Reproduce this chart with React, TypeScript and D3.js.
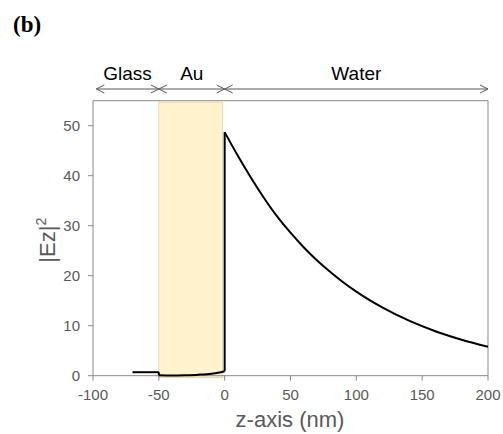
import React from 'react';
import * as d3 from 'd3';

// field profile |Ez|^2 across glass / Au / water
const glassZ = [-70, -50];
const glassE = [0.7, 0.7];
const goldZ = [-50, -40, -30, -20, -10, -5, 0];
const goldE = [0.1, 0.05, 0.1, 0.2, 0.4, 0.6, 0.9];
const waterZ = [0, 10, 20, 30, 40, 50, 60, 70, 80, 90, 100, 120, 140, 160, 180, 200];
const waterE = [48.7, 44.0, 39.6, 35.5, 31.8, 28.6, 25.7, 23.1, 20.8, 18.7, 16.8, 13.6, 11.0, 8.9, 7.2, 5.8];

const xTicks = [-100, -50, 0, 50, 100, 150, 200];
const yTicks = [0, 10, 20, 30, 40, 50];
const regions = [
  { name: 'Glass', from: -97.5, to: -50 },
  { name: 'Au', from: -50, to: 0 },
  { name: 'Water', from: 0, to: 200 },
];

const W = 503;
const H = 434;
const margin = { top: 100.7, right: 15, bottom: 58.3, left: 93 };

const App = () => {
  const x = d3.scaleLinear().domain([-100, 200]).range([margin.left, W - margin.right]);
  const y = d3.scaleLinear().domain([0, 55]).range([H - margin.bottom, margin.top]);

  const line = d3.line<[number, number]>()
    .x(d => x(d[0]))
    .y(d => y(d[1]))
    .curve(d3.curveMonotoneX);
  const straight = d3.line<[number, number]>()
    .x(d => x(d[0]))
    .y(d => y(d[1]));

  // monotoneX can't handle duplicate x, so draw segments separately
  const segs = [
    glassZ.map((z, i) => [z, glassE[i]] as [number, number]),
    goldZ.map((z, i) => [z, goldE[i]] as [number, number]),
    waterZ.map((z, i) => [z, waterE[i]] as [number, number]),
  ];
  const joins = [
    [[glassZ[glassZ.length - 1], glassE[glassE.length - 1]], [goldZ[0], goldE[0]]],
    [[goldZ[goldZ.length - 1], goldE[goldE.length - 1]], [waterZ[0], waterE[0]]],
  ] as [number, number][][];

  const axisCol = '#898989';
  const textCol = '#595959';
  const font = '"Liberation Sans", Arial, sans-serif';
  const arrowY = 89;
  const x0 = x(-100);
  const x1 = x(200);
  const y0 = y(0);
  const yTop = y(55);

  return (
    <svg width={W} height={H} style={{ position: 'absolute', left: 0, top: 0, background: '#fff' }}>
      <text x={13} y={32} fontFamily='"Liberation Serif", "Times New Roman", serif' fontWeight="bold" fontSize={23} fill="#000">(b)</text>

      {/* Au band */}
      <rect
        x={x(-50)} y={y(54.7)}
        width={x(-1.5) - x(-50)} height={y(-0.4) - y(54.7)}
        fill="#fff2cc" stroke="#e0d2a8" strokeWidth={0.8}
      />

      {/* frame */}
      <line x1={x0} x2={x1} y1={yTop} y2={yTop} stroke={axisCol} />
      <line x1={x1} x2={x1} y1={yTop} y2={y0} stroke={axisCol} />
      <line x1={x0} x2={x0} y1={yTop} y2={y0} stroke={axisCol} />
      <line x1={x0} x2={x1} y1={y0} y2={y0} stroke={axisCol} />

      {yTicks.map(t => (
        <g key={'y' + t}>
          <line x1={x0 - 5} x2={x0} y1={y(t)} y2={y(t)} stroke={axisCol} />
          <text x={x0 - 13} y={y(t) + 5.5} textAnchor="end" fontFamily={font} fontSize={15} fill={textCol}>{t}</text>
        </g>
      ))}
      {xTicks.map(t => (
        <g key={'x' + t}>
          <line x1={x(t)} x2={x(t)} y1={y0} y2={y0 + 5} stroke={axisCol} />
          <text x={x(t)} y={y0 + 24} textAnchor="middle" fontFamily={font} fontSize={15} fill={textCol}>{t}</text>
        </g>
      ))}

      <text x={290} y={427} textAnchor="middle" fontFamily={font} fontSize={22} fill={textCol}>z-axis  (nm)</text>
      <text transform={`translate(55,${(yTop + y0) / 2 + 2}) rotate(-90)`} textAnchor="middle" fontFamily={font} fontSize={22} fill={textCol}>
        |Ez|<tspan dy={-9} fontSize={14}>2</tspan>
      </text>

      {/* region arrows */}
      {regions.map(r => {
        const a = x(r.from);
        const b = x(r.to);
        return (
          <g key={r.name} stroke="#595959" strokeWidth={1} fill="none">
            <line x1={a} x2={b} y1={arrowY} y2={arrowY} />
            <polyline points={`${a + 8},${arrowY - 4} ${a},${arrowY} ${a + 8},${arrowY + 4}`} />
            <polyline points={`${b - 8},${arrowY - 4} ${b},${arrowY} ${b - 8},${arrowY + 4}`} />
            <text x={(a + b) / 2} y={80} textAnchor="middle" fontFamily={font} fontSize={19} fill="#000" stroke="none">{r.name}</text>
          </g>
        );
      })}

      {/* curve */}
      <g fill="none" stroke="#000" strokeWidth={2}>
        {segs.map((s, i) => <path key={'s' + i} d={line(s) || ''} />)}
        {joins.map((s, i) => <path key={'j' + i} d={straight(s) || ''} />)}
      </g>
    </svg>
  );
};

export default App;
